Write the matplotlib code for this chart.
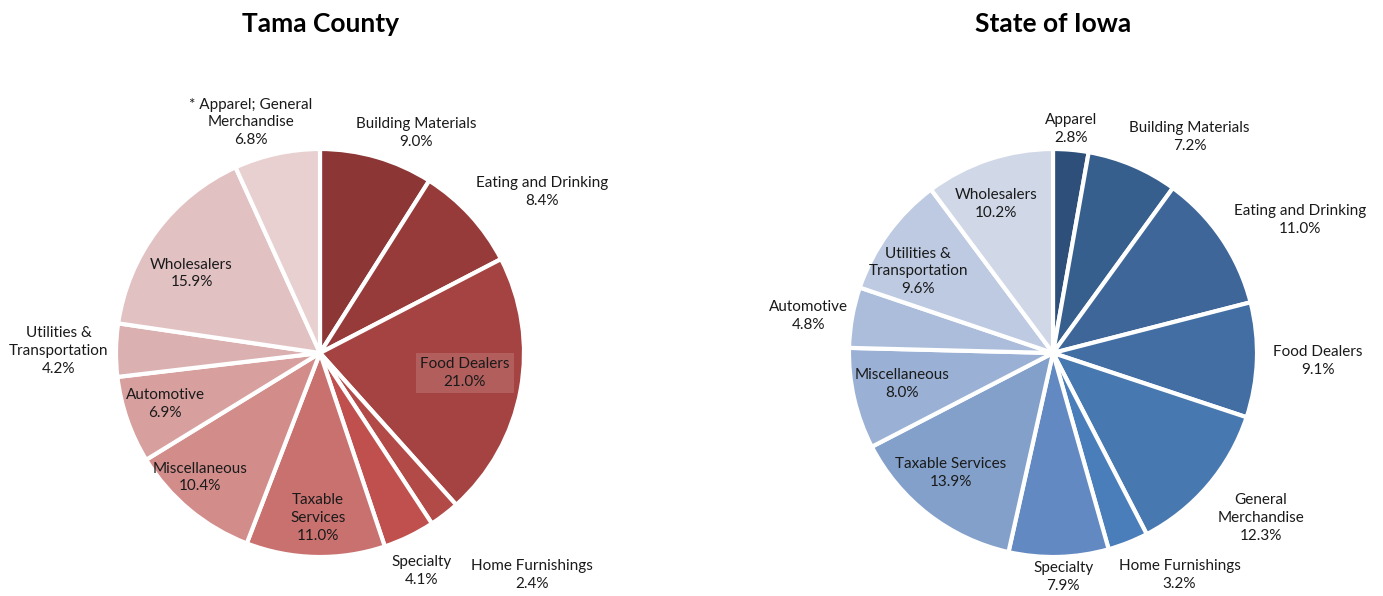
import matplotlib
matplotlib.use('Agg')
import matplotlib.pyplot as plt

plt.rcParams['font.family'] = ['Lato', 'DejaVu Sans']

# ── Data ──────────────────────────────────────────────────────────────────────
tama_labels = ['Building Materials', 'Eating and Drinking', 'Food Dealers',
               'Home Furnishings', 'Specialty', 'Taxable\nServices',
               'Miscellaneous', 'Automotive', 'Utilities &\nTransportation',
               'Wholesalers', '* Apparel; General\nMerchandise']
tama_values = [9.0, 8.4, 21.0, 2.4, 4.1, 11.0, 10.4, 6.9, 4.2, 15.9, 6.8]

iowa_labels = ['Apparel', 'Building Materials', 'Eating and Drinking',
               'Food Dealers', 'General\nMerchandise', 'Home Furnishings',
               'Specialty', 'Taxable Services', 'Miscellaneous', 'Automotive',
               'Utilities &\nTransportation', 'Wholesalers']
iowa_values = [2.8, 7.2, 11.0, 9.1, 12.3, 3.2, 7.9, 13.9, 8.0, 4.8, 9.6, 10.2]

# ── Styling ───────────────────────────────────────────────────────────────────
tama_colors = ['#8C3636', '#973B3A', '#A44341', '#B24A48', '#C0504D', '#C9716F',
               '#D28D8B', '#D7A09F', '#DBB0B0', '#E1C1C2', '#E8D0D0']
iowa_colors = ['#2D4F7A', '#375F8D', '#3E6699', '#436EA4', '#4878B0', '#4A7EBB',
               '#6389C2', '#83A0CB', '#9AB0D4', '#ABBDDB', '#BDCAE2', '#D0D8E8']

# label centres in pie-radius units (layout only)
tama_lab_xy = [(0.47, 1.08), (1.09, 0.79), (0.71, -0.10), (1.04, -1.09),
               (0.50, -1.07), (-0.01, -0.81), (-0.59, -0.61), (-0.76, -0.25),
               (-1.28, 0.01), (-0.63, 0.39), (-0.34, 1.13)]
iowa_lab_xy = [(0.09, 1.10), (0.67, 1.06), (1.21, 0.65), (1.30, -0.04),
               (1.02, -0.81), (0.62, -1.09), (0.05, -1.10), (-0.50, -0.59),
               (-0.74, -0.15), (-1.20, 0.18), (-0.66, 0.40), (-0.28, 0.73)]

W, H = 1383, 596
R = 204
fig = plt.figure(figsize=(W / 100, H / 100), dpi=100, facecolor='white')


def draw_pie(cx, cy, values, labels, colors, lab_xy, title, boxed=None):
    ax = fig.add_axes([(cx - R) / W, (H - cy - R) / H, 2 * R / W, 2 * R / H])
    ax.pie(values, colors=colors, startangle=90, counterclock=False,
           radius=1.0, wedgeprops=dict(edgecolor='white', linewidth=3))
    ax.set_xlim(-1, 1)
    ax.set_ylim(-1, 1)
    ax.set_aspect('equal')
    ax.axis('off')
    for i, (lab, v) in enumerate(zip(labels, values)):
        x, y = lab_xy[i]
        kw = {}
        if boxed is not None and i == boxed:
            kw['bbox'] = dict(facecolor='white', alpha=0.15, edgecolor='none', pad=3)
        ax.text(x, y, f'{lab}\n{v:.1f}%', ha='center', va='center',
                fontsize=11, color='#1a1a1a', linespacing=1.35, clip_on=False, **kw)
    fig.text(cx / W, 1 - 24 / H, title, ha='center', va='center',
             fontsize=19, fontweight='bold', color='black')


draw_pie(320, 353, tama_values, tama_labels, tama_colors, tama_lab_xy,
         'Tama County', boxed=2)
draw_pie(1053, 353, iowa_values, iowa_labels, iowa_colors, iowa_lab_xy,
         'State of Iowa')

fig.savefig('out.png', dpi=100, facecolor='white')
